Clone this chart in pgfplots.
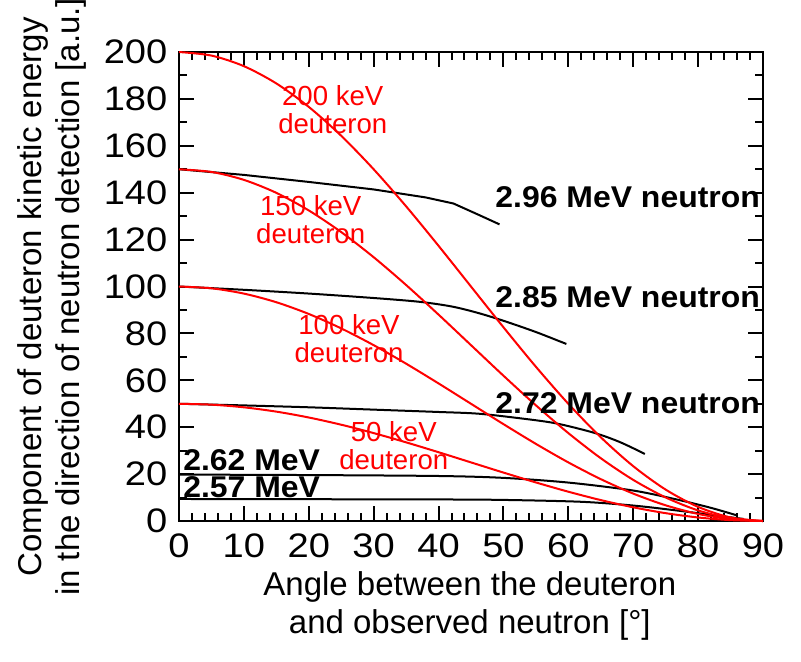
\documentclass[border=0pt]{standalone}
\usepackage{pgfplots}
\pgfplotsset{compat=1.18}
\usepackage{fontspec}
\setmainfont{Liberation Sans}
\newfontfamily\tickfont[FakeStretch=1.12]{Liberation Sans}
\newfontfamily\notefont[FakeStretch=1.065]{Liberation Sans}

\definecolor{dred}{RGB}{255,0,0}

\begin{document}
\begin{tikzpicture}
\begin{axis}[
  scale only axis,
  width=292pt, height=234.5pt,
  xmin=0, xmax=90, ymin=0, ymax=200,
  xtick={0,10,...,90}, ytick={0,20,...,200},
  minor x tick num=4, minor y tick num=1,
  tick align=inside,
  major tick length=7.5pt, minor tick length=4pt,
  every tick/.style={black, line width=1pt},
  axis line style={line width=1.2pt},
  tick label style={font=\tickfont\fontsize{17}{20}\selectfont},
  /pgf/number format/assume math mode=true,
  yticklabel style={xshift=-2.3pt},
  xticklabel style={yshift=-2.8pt},
  xlabel={Angle between the deuteron\\and observed neutron [°]},
  ylabel={Component of deuteron kinetic energy\\in the direction of neutron detection [a.u.]},
  label style={font=\fontsize{16.5}{19}\selectfont, align=center},
  xlabel style={at={(rel axis cs:0.498,-0.181)}, anchor=center},
  ylabel style={at={(rel axis cs:-0.218,0.478)}, anchor=center},
  clip=false,
]
% neutron energy lines
\addplot[black, line width=1pt] coordinates {
  (0,150) (10,147.6) (20,144.6) (30,141.4) (38,138) (42.3,135.4) (46,130.8) (49.4,126.5)};
\addplot[black, line width=1pt, smooth] coordinates {
  (0,100) (10,98.6) (20,97) (30,95.1) (37,93.5) (42,91.5) (46,88.8) (50,85.4) (55,80.6) (59.7,75.5)};
\addplot[black, line width=1pt, smooth] coordinates {
  (0,50) (10,49.3) (20,48.5) (30,47.5) (40,46.5) (46,45.8) (52,44) (58,41.7) (64,37.6) (68,33.6) (71.8,28.6)};
\addplot[black, line width=1pt, smooth] coordinates {
  (0,19.8) (20,19.6) (40,19.2) (50,18.4) (60,16.4) (70,13) (77,9) (82,5.6) (86,2.4)};
\addplot[black, line width=1pt, smooth] coordinates {
  (0,9.4) (20,9.3) (40,9.2) (50,9) (62,8.2) (70,6.6) (77,4.4) (82,2.6) (87,0.9)};

% deuteron energy curves
\addplot[dred, line width=1pt, smooth] coordinates {
  (0,200) (5,198.48) (10,193.97) (15,186.60) (20,176.60) (25,164.28) (30,150) (35,134.20)
  (40,117.36) (45,100) (50,82.64) (55,65.80) (60,50) (65,35.72) (70,23.40) (75,13.40)
  (80,6.03) (85,1.52) (90,0)};
\addplot[dred, line width=1pt, smooth] coordinates {
  (0,150) (5,148.86) (10,145.48) (15,139.95) (20,132.45) (25,123.21) (30,112.5) (35,100.65)
  (40,88.02) (45,75) (50,61.98) (55,49.35) (60,37.5) (65,26.79) (70,17.55) (75,10.05)
  (80,4.52) (85,1.14) (90,0)};
\addplot[dred, line width=1pt, smooth] coordinates {
  (0,100) (5,99.24) (10,96.98) (15,93.30) (20,88.30) (25,82.14) (30,75) (35,67.10)
  (40,58.68) (45,50) (50,41.32) (55,32.90) (60,25) (65,17.86) (70,11.70) (75,6.70)
  (80,3.02) (85,0.76) (90,0)};
\addplot[dred, line width=1pt, smooth] coordinates {
  (0,50) (5,49.62) (10,48.49) (15,46.65) (20,44.15) (25,41.07) (30,37.5) (35,33.55)
  (40,29.34) (45,25) (50,20.66) (55,16.45) (60,12.5) (65,8.93) (70,5.85) (75,3.35)
  (80,1.51) (85,0.38) (90,0)};

% curve labels
\begin{scope}[every node/.style={dred, align=center, inner sep=0pt,
    font=\fontsize{13.8}{14}\selectfont}]
\node at (axis cs:23.7,175.5) {200 keV\\deuteron};
\node at (axis cs:20.3,128.4) {150 keV\\deuteron};
\node at (axis cs:26.2,77.8) {100 keV\\deuteron};
\node at (axis cs:33.1,32) {50 keV\\deuteron};
\end{scope}
\begin{scope}[every node/.style={black, anchor=west, inner sep=0pt,
    font=\notefont\fontsize{15}{16}\selectfont\bfseries}]
\node at (axis cs:48.7,138.2) {2.96 MeV neutron};
\node at (axis cs:48.7,95.5) {2.85 MeV neutron};
\node at (axis cs:48.7,50.3) {2.72 MeV neutron};
\node at (axis cs:0.6,26) {2.62 MeV};
\node at (axis cs:0.6,14.5) {2.57 MeV};
\end{scope}

\coordinate (bbsw) at (rel axis cs:-0.3065,-0.3006);
\coordinate (bbne) at (rel axis cs:1.0651,1.1109);
\end{axis}
\pgfresetboundingbox
\path (bbsw) rectangle (bbne);
\end{tikzpicture}
\end{document}
